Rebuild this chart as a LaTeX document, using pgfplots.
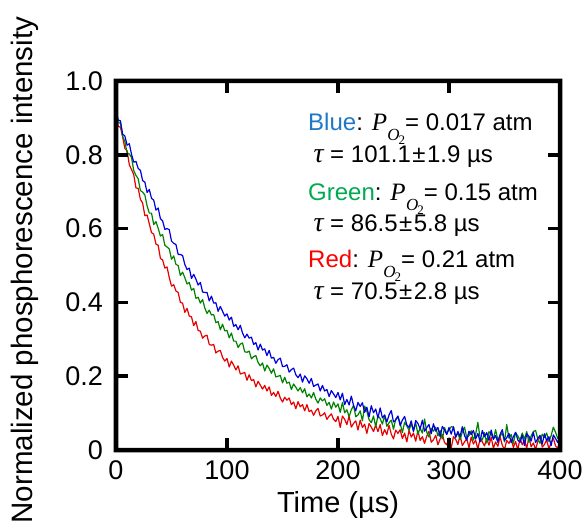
\documentclass[border=0pt]{standalone}
\usepackage{pgfplots}
\pgfplotsset{compat=1.18}
\usepackage{pgfplotstable}
\usepackage{fontspec}
\setmainfont{Liberation Sans}
\newfontfamily\tnr{Liberation Serif}
\definecolor{labblue}{RGB}{30,120,200}
\definecolor{labgreen}{RGB}{0,170,80}
\definecolor{labred}{RGB}{255,0,0}
\definecolor{cblue}{RGB}{0,0,220}
\definecolor{cgreen}{RGB}{0,130,0}
\definecolor{cred}{RGB}{230,0,0}
\newcommand{\PO}{{\fontsize{25}{25}\selectfont\tnr\itshape P}\kern0.3pt\raisebox{-10pt}{\fontsize{17}{17}\selectfont\tnr\itshape O}\kern-1pt\raisebox{-14pt}{\fontsize{13}{13}\selectfont\tnr 2}}
\newcommand{\tauu}{{\fontsize{28}{28}\selectfont\tnr\itshape τ}}

\pgfplotstableread{
t b g r
0 0.922 0.921 0.917
2 0.894 0.887 0.877
4 0.892 0.886 0.875
6 0.856 0.850 0.848
8 0.851 0.836 0.817
10 0.826 0.805 0.811
12 0.830 0.802 0.773
14 0.801 0.793 0.760
16 0.780 0.757 0.746
18 0.782 0.744 0.710
20 0.763 0.735 0.709
22 0.758 0.703 0.679
24 0.730 0.699 0.669
26 0.726 0.691 0.635
28 0.698 0.662 0.637
30 0.706 0.642 0.613
32 0.682 0.642 0.589
34 0.677 0.611 0.585
36 0.650 0.619 0.558
38 0.656 0.601 0.555
40 0.627 0.580 0.519
42 0.621 0.584 0.515
44 0.598 0.555 0.493
46 0.600 0.550 0.496
48 0.597 0.545 0.467
50 0.566 0.517 0.444
52 0.560 0.526 0.448
54 0.557 0.503 0.431
56 0.530 0.500 0.427
58 0.530 0.473 0.400
60 0.527 0.482 0.398
62 0.503 0.467 0.373
64 0.489 0.450 0.384
66 0.493 0.454 0.363
68 0.465 0.433 0.361
70 0.476 0.438 0.337
72 0.463 0.411 0.348
74 0.447 0.414 0.324
76 0.454 0.398 0.322
78 0.428 0.408 0.303
80 0.427 0.385 0.309
82 0.427 0.370 0.311
84 0.404 0.379 0.286
86 0.417 0.366 0.284
88 0.398 0.367 0.286
90 0.399 0.345 0.263
92 0.376 0.348 0.268
94 0.389 0.326 0.270
96 0.376 0.341 0.251
98 0.363 0.323 0.241
100 0.369 0.324 0.248
102 0.352 0.304 0.225
104 0.360 0.317 0.241
106 0.335 0.295 0.230
108 0.340 0.295 0.217
110 0.326 0.278 0.228
112 0.338 0.287 0.206
114 0.317 0.290 0.208
116 0.304 0.266 0.210
118 0.314 0.265 0.189
120 0.303 0.268 0.204
122 0.306 0.247 0.188
124 0.286 0.253 0.191
126 0.291 0.256 0.171
128 0.271 0.237 0.186
130 0.287 0.228 0.176
132 0.271 0.236 0.165
134 0.274 0.214 0.175
136 0.256 0.230 0.160
138 0.270 0.221 0.171
140 0.249 0.208 0.148
142 0.251 0.220 0.156
144 0.235 0.198 0.145
146 0.245 0.200 0.159
148 0.249 0.202 0.141
150 0.226 0.182 0.130
152 0.227 0.197 0.143
154 0.231 0.181 0.135
156 0.211 0.184 0.141
158 0.218 0.164 0.123
160 0.222 0.179 0.130
162 0.204 0.170 0.112
164 0.196 0.160 0.131
166 0.206 0.169 0.117
168 0.184 0.155 0.123
170 0.201 0.166 0.106
172 0.193 0.144 0.123
174 0.181 0.152 0.104
176 0.194 0.141 0.108
178 0.172 0.156 0.094
180 0.176 0.138 0.106
182 0.179 0.127 0.113
184 0.160 0.141 0.092
186 0.175 0.133 0.095
188 0.160 0.139 0.101
190 0.164 0.121 0.083
192 0.145 0.129 0.092
194 0.161 0.111 0.098
196 0.152 0.130 0.083
198 0.142 0.116 0.077
200 0.156 0.125 0.091
202 0.136 0.102 0.061
204 0.154 0.129 0.092
206 0.123 0.101 0.083
208 0.137 0.109 0.069
210 0.122 0.090 0.092
212 0.146 0.109 0.062
214 0.121 0.121 0.072
216 0.106 0.090 0.079
218 0.129 0.095 0.054
220 0.118 0.106 0.081
222 0.128 0.079 0.061
224 0.102 0.119 0.070
226 0.116 0.105 0.045
228 0.090 0.082 0.072
230 0.120 0.074 0.062
232 0.101 0.092 0.050
234 0.111 0.063 0.068
236 0.087 0.093 0.050
238 0.114 0.085 0.069
240 0.087 0.070 0.039
242 0.095 0.094 0.055
244 0.076 0.064 0.042
246 0.095 0.074 0.067
248 0.107 0.081 0.043
250 0.076 0.056 0.030
252 0.081 0.084 0.054
254 0.092 0.091 0.045
256 0.066 0.073 0.055
258 0.081 0.047 0.031
260 0.091 0.075 0.046
262 0.068 0.065 0.022
264 0.061 0.053 0.053
266 0.079 0.071 0.035
268 0.050 0.053 0.046
270 0.080 0.073 0.024
272 0.072 0.043 0.052
274 0.057 0.059 0.026
276 0.081 0.046 0.036
278 0.051 0.084 0.018
280 0.061 0.048 0.038
282 0.069 0.035 0.051
284 0.044 0.059 0.021
286 0.071 0.051 0.028
288 0.051 0.062 0.040
290 0.061 0.038 0.014
292 0.036 0.053 0.030
294 0.064 0.030 0.042
296 0.054 0.061 0.020
298 0.042 0.044 0.014
300 0.061 0.055 0.033
302 0.043 0.063 0.005
304 0.063 0.062 0.036
306 0.034 0.036 0.029
308 0.050 0.046 0.015
310 0.037 0.028 0.040
312 0.063 0.049 0.012
314 0.039 0.062 0.022
316 0.027 0.033 0.031
318 0.051 0.039 0.006
320 0.042 0.052 0.035
322 0.053 0.027 0.016
324 0.030 0.043 0.027
326 0.045 0.075 0.002
328 0.022 0.033 0.031
330 0.053 0.027 0.022
332 0.036 0.047 0.011
334 0.047 0.019 0.031
336 0.026 0.050 0.013
338 0.054 0.043 0.034
340 0.029 0.030 0.005
342 0.039 0.055 0.022
344 0.021 0.027 0.010
346 0.042 0.037 0.036
348 0.055 0.046 0.013
350 0.026 0.022 0.001
352 0.033 0.069 0.026
354 0.045 0.032 0.018
356 0.020 0.042 0.030
358 0.036 0.018 0.007
360 0.048 0.047 0.023
362 0.027 0.038 0.000
364 0.021 0.027 0.032
366 0.040 0.046 0.014
368 0.012 0.029 0.026
370 0.044 0.050 0.005
372 0.037 0.021 0.034
374 0.024 0.038 0.009
376 0.048 0.050 0.019
378 0.020 0.053 0.002
380 0.031 0.030 0.023
382 0.040 0.018 0.037
384 0.016 0.043 0.008
386 0.044 0.034 0.015
388 0.025 0.046 0.028
390 0.036 0.023 0.003
392 0.012 0.039 0.020
394 0.041 0.062 0.032
396 0.031 0.048 0.011
398 0.020 0.031 0.005
400 0.040 0.043 0.025
}\datatab

\begin{document}
\begin{tikzpicture}
\begin{axis}[
  at={(0,0)}, anchor=south west,
  width=444pt, height=369pt, scale only axis,
  xmin=0, xmax=400, ymin=0, ymax=1,
  clip=false,
  xtick={0,100,200,300,400}, xticklabels={0,100,200,300,400},
  ytick={0,0.2,0.4,0.6,0.8,1}, yticklabels={0,0.2,0.4,0.6,0.8,1.0},
  tick align=inside, major tick length=12pt,
  tick style={line width=3.5pt, black},
  axis line style={black},
  tick label style={font=\fontsize{27}{27}\selectfont},
  xticklabel style={inner sep=0pt, yshift=-10pt},
  yticklabel style={inner sep=0pt, xshift=-13pt},
  xlabel={Time (µs)},
  xlabel style={at={(axis description cs:0.5,-0.1707)}, anchor=base, inner sep=0pt, font=\fontsize{29}{29}\selectfont},
  ylabel={Normalized phosphorescence intensity},
  ylabel style={at={(axis description cs:-0.187,0.4878)}, anchor=base, inner sep=0pt, font=\fontsize{29.5}{29.5}\selectfont},
]
\addplot[cred, line width=1.2pt, line join=round] table[x=t,y=r]{\datatab};
\addplot[cgreen, line width=1.2pt, line join=round] table[x=t,y=g]{\datatab};
\addplot[cblue, line width=1.2pt, line join=round] table[x=t,y=b]{\datatab};

% thick frame as a filled ring (about 4.5pt wide)
\fill[black, even odd rule] (axis cs:-2.03,-0.0061) rectangle (axis cs:402.03,1.0061)
                            (axis cs:2.03,0.0061) rectangle (axis cs:397.97,0.9939);
% inward ticks as filled bars (3.5pt wide, 12pt long)
\fill[black] (axis cs:98.42,0) rectangle (axis cs:101.58,0.0325);
\fill[black] (axis cs:198.42,0) rectangle (axis cs:201.58,0.0325);
\fill[black] (axis cs:298.42,0) rectangle (axis cs:301.58,0.0325);
\fill[black] (axis cs:98.42,0.9675) rectangle (axis cs:101.58,1);
\fill[black] (axis cs:198.42,0.9675) rectangle (axis cs:201.58,1);
\fill[black] (axis cs:298.42,0.9675) rectangle (axis cs:301.58,1);
\fill[black] (axis cs:0,0.19526) rectangle (axis cs:10.8,0.20474);
\fill[black] (axis cs:0,0.39526) rectangle (axis cs:10.8,0.40474);
\fill[black] (axis cs:0,0.59526) rectangle (axis cs:10.8,0.60474);
\fill[black] (axis cs:0,0.79526) rectangle (axis cs:10.8,0.80474);
\fill[black] (axis cs:389.2,0.19526) rectangle (axis cs:400,0.20474);
\fill[black] (axis cs:389.2,0.39526) rectangle (axis cs:400,0.40474);
\fill[black] (axis cs:389.2,0.59526) rectangle (axis cs:400,0.60474);
\fill[black] (axis cs:389.2,0.79526) rectangle (axis cs:400,0.80474);

\node[anchor=base west, inner sep=0pt, font=\fontsize{24}{24}\selectfont] at (axis cs:173,0.8645) {\textcolor{labblue}{Blue}: \PO= 0.017 atm};
\node[anchor=base west, inner sep=0pt, font=\fontsize{24}{24}\selectfont] at (axis cs:177.8,0.7778) {\tauu{} = 101.1\kern1.5pt±\kern1.5pt1.9 µs};
\node[anchor=base west, inner sep=0pt, font=\fontsize{24}{24}\selectfont] at (axis cs:173,0.6775) {\textcolor{labgreen}{Green}: \PO= 0.15 atm};
\node[anchor=base west, inner sep=0pt, font=\fontsize{24}{24}\selectfont] at (axis cs:177.8,0.5908) {\tauu{} = 86.5\kern1.5pt±\kern1.5pt5.8 µs};
\node[anchor=base west, inner sep=0pt, font=\fontsize{24}{24}\selectfont] at (axis cs:173,0.4959) {\textcolor{labred}{Red}: \PO= 0.21 atm};
\node[anchor=base west, inner sep=0pt, font=\fontsize{24}{24}\selectfont] at (axis cs:177.8,0.4092) {\tauu{} = 70.5\kern1.5pt±\kern1.5pt2.8 µs};
\end{axis}
\pgfresetboundingbox
\path[use as bounding box] ([xshift=-116pt,yshift=-72pt]current axis.south west) rectangle ([xshift=27pt,yshift=81pt]current axis.north east);
\end{tikzpicture}
\end{document}
